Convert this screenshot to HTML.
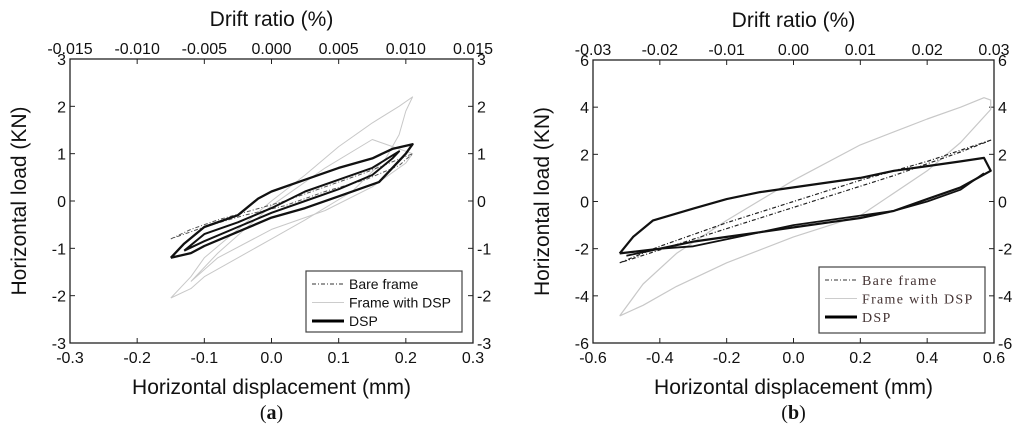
<!DOCTYPE html>
<html><head><meta charset="utf-8"><style>
body{margin:0;background:#fff;width:1024px;height:437px;overflow:hidden}
svg{font-family:"Liberation Sans",sans-serif}
</style></head><body>
<svg id="svg" width="1024" height="437" viewBox="0 0 1024 437"></svg>
<script>
// ---- Chart (a) data ----
const aFrameX=[-0.15,-0.12,-0.1,-0.05,0,0.05,0.1,0.15,0.19,0.21,0.2,0.19,0.17,0.12,0.05,0,-0.05,-0.1,-0.12,-0.15];
const aFrameY=[-2.05,-1.6,-1.2,-0.6,0,0.55,1.15,1.65,2.0,2.2,1.9,1.4,0.9,0.2,-0.4,-0.8,-1.2,-1.6,-1.85,-2.05];
const aFrame2X=[-0.12,-0.08,0,0.08,0.15,0.21,0.2,0.15,0.08,0,-0.08,-0.12];
const aFrame2Y=[-1.7,-1.1,-0.1,0.7,1.3,1.0,0.8,0.3,-0.2,-0.6,-1.2,-1.7];
const aBareX=[-0.15,-0.12,-0.08,-0.03,0.02,0.08,0.14,0.21,0.19,0.14,0.08,0.02,-0.04,-0.1,-0.15];
const aBareY=[-0.8,-0.6,-0.4,-0.2,0.0,0.3,0.6,1.0,0.75,0.45,0.2,-0.1,-0.3,-0.55,-0.8];
const aDspX=[-0.15,-0.13,-0.1,-0.05,-0.02,0,0.05,0.1,0.15,0.18,0.21,0.2,0.18,0.16,0.1,0.05,0,-0.05,-0.1,-0.12,-0.15];
const aDspY=[-1.2,-0.9,-0.55,-0.3,0.05,0.2,0.45,0.7,0.9,1.1,1.2,1.0,0.7,0.4,0.1,-0.15,-0.35,-0.65,-0.95,-1.1,-1.2];
const aDsp2X=[-0.13,-0.1,-0.05,0,0.05,0.1,0.15,0.19,0.18,0.15,0.1,0.05,0,-0.05,-0.1,-0.13];
const aDsp2Y=[-1.05,-0.7,-0.45,-0.15,0.2,0.45,0.7,1.05,0.9,0.55,0.25,0.0,-0.25,-0.55,-0.85,-1.05];
const aXTicks=[-0.3,-0.2,-0.1,0.0,0.1,0.2,0.3];
const aXLabels=["-0.3","-0.2","-0.1","0.0","0.1","0.2","0.3"];
const aTopLabels=["-0.015","-0.010","-0.005","0.000","0.005","0.010","0.015"];
const aYTicks=[-3,-2,-1,0,1,2,3];
// ---- Chart (b) data ----
const bFrameX=[-0.52,-0.45,-0.35,-0.2,0,0.2,0.4,0.5,0.57,0.59,0.59,0.5,0.4,0.2,0,-0.2,-0.35,-0.45,-0.52];
const bFrameY=[-4.85,-3.5,-2.2,-0.8,0.9,2.4,3.5,4.0,4.4,4.3,3.9,2.5,1.3,-0.6,-1.5,-2.6,-3.6,-4.4,-4.85];
const bBareX=[-0.52,-0.4,-0.2,0,0.2,0.4,0.59,0.5,0.3,0.1,-0.1,-0.3,-0.52];
const bBareY=[-2.6,-1.9,-0.9,0,0.9,1.7,2.6,2.1,1.1,0.2,-0.7,-1.6,-2.6];
const bDspX=[-0.52,-0.48,-0.42,-0.3,-0.2,-0.1,0,0.1,0.2,0.3,0.4,0.5,0.57,0.59,0.5,0.4,0.3,0.2,0.1,0,-0.1,-0.2,-0.3,-0.4,-0.52];
const bDspY=[-2.2,-1.5,-0.8,-0.3,0.1,0.4,0.6,0.8,1.0,1.3,1.5,1.7,1.85,1.3,0.6,0.1,-0.4,-0.7,-0.9,-1.1,-1.3,-1.5,-1.7,-2.0,-2.2];
const bDsp2X=[-0.5,-0.4,-0.3,-0.2,-0.1,0,0.1,0.2,0.3,0.4,0.5,0.57];
const bDsp2Y=[-2.3,-2.0,-1.9,-1.6,-1.3,-1.0,-0.8,-0.6,-0.4,0.0,0.5,1.2];
const bXTicks=[-0.6,-0.4,-0.2,0.0,0.2,0.4,0.6];
const bXLabels=["-0.6","-0.4","-0.2","0.0","0.2","0.4","0.6"];
const bTopLabels=["-0.03","-0.02","-0.01","0.00","0.01","0.02","0.03"];
const bYTicks=[-6,-4,-2,0,2,4,6];

const NS="http://www.w3.org/2000/svg";
const svg=document.getElementById('svg');
function mk(tag,attrs,parent){const e=document.createElementNS(NS,tag);for(const k in attrs)e.setAttribute(k,attrs[k]);(parent||svg).appendChild(e);return e;}
function txt(x,y,s,size,anchor,parent,extra){const t=mk('text',Object.assign({x:x,y:y,'font-size':size,'text-anchor':anchor||'middle',fill:'#111'},extra||{}),parent);t.textContent=s;return t;}

function chart(id,L,R,T,B,xmin,xmax,ymin,ymax,xt,xl,tl,yt,series,leg,serif,letter){
  const g=mk('g',{});
  
  
  const sx=v=>L+(v-xmin)/(xmax-xmin)*(R-L);
  const sy=v=>B-(v-ymin)/(ymax-ymin)*(B-T);
  const box=mk('rect',{x:L,y:T,width:R-L,height:B-T,fill:'none',stroke:'#222','stroke-width':1.3},g);
  
  
  xt.forEach((v,i)=>{
    const x=sx(v);
    mk('line',{x1:x,y1:B,x2:x,y2:B-5,stroke:'#222'},g);
    mk('line',{x1:x,y1:T,x2:x,y2:T+5,stroke:'#222'},g);
    const a=txt(x,B+20,xl[i],16,'middle',g);
    
    
    const b=txt(x,T-5,tl[i],16,'middle',g);
    
    
  });
  yt.forEach(v=>{
    const y=sy(v);
    mk('line',{x1:L,y1:y,x2:L+5,y2:y,stroke:'#222'},g);
    mk('line',{x1:R,y1:y,x2:R-5,y2:y,stroke:'#222'},g);
    const a=txt(L-4,y+6,String(v),16,'end',g);
    
    
    const b=txt(R+4,y+6,String(v),16,'start',g);
    
    
  });
  series.forEach(s=>{
    const d=s.x.map((v,i)=>(i?'L':'M')+sx(v).toFixed(1)+' '+sy(s.y[i]).toFixed(1)).join(' ');
    const p=mk('path',{d:d,fill:'none',stroke:s.c,'stroke-width':s.w,'stroke-dasharray':s.dash||'none','stroke-linejoin':'round'},g);
    
    
  });
  const lt=mk('text',{x:(L+R)/2,y:T-33,'font-size':21,'text-anchor':'middle',fill:'#111'},g);lt.textContent='Drift ratio (%)';
  
  
  const xb=mk('text',{x:(L+R)/2,y:B+51,'font-size':21,'text-anchor':'middle',fill:'#111'},g);xb.textContent='Horizontal displacement (mm)';
  
  
  const cy=(T+B)/2;
  const yl=mk('text',{x:L-44,y:cy,'font-size':21,'text-anchor':'middle',fill:'#111',transform:'rotate(-90 '+(L-44)+' '+cy+')'},g);yl.textContent='Horizontal load (KN)';
  
  
  const lb=mk('text',{x:(L+R)/2,y:B+76,'font-size':20,'text-anchor':'middle',fill:'#111','font-family':'Liberation Serif,serif'},g);
  lb.innerHTML='(<tspan font-weight="bold">'+letter+'</tspan>)';
  
  
  const lg=mk('g',{},g);
  
  
  mk('rect',{x:leg[0],y:leg[1],width:leg[2],height:leg[3],fill:'#fff',stroke:'#444','stroke-width':1.2},lg);
  const items=[['Bare frame','#333',1,'4 2 1 2'],['Frame with DSP','#ccc',1,null],['DSP','#000',3,null]];
  items.forEach((it,i)=>{
    const y=leg[1]+13+i*18.5;
    mk('line',{x1:leg[0]+6,y1:y,x2:leg[0]+38,y2:y,stroke:it[1],'stroke-width':it[2],'stroke-dasharray':it[3]||'none'},lg);
    const t=txt(leg[0]+43,y+5,it[0],serif?14:14,'start',lg,serif?{'font-family':'Liberation Serif,serif',fill:'#433','letter-spacing':'1.3'}:{});
    
    
  });
}
chart('a',70,473,59,343,-0.3,0.3,-3,3,aXTicks,aXLabels,aTopLabels,aYTicks,[
 {x:aFrameX,y:aFrameY,c:'#c8c8c8',w:1,name:'series-frame-with-dsp'},
 {x:aFrame2X,y:aFrame2Y,c:'#c8c8c8',w:1,name:'series-frame-with-dsp-cycle2'},
 {x:aBareX,y:aBareY,c:'#555',w:1,dash:'4 2 1 2',name:'series-bare-frame'},
 {x:aDspX,y:aDspY,c:'#111',w:2.3,name:'series-dsp'},
 {x:aDsp2X,y:aDsp2Y,c:'#111',w:2,name:'series-dsp-cycle2'}
],[306,271,156,61],false,'a');
chart('b',593,994,60,343,-0.6,0.6,-6,6,bXTicks,bXLabels,bTopLabels,bYTicks,[
 {x:bFrameX,y:bFrameY,c:'#c8c8c8',w:1.2,name:'series-frame-with-dsp'},
 {x:bBareX,y:bBareY,c:'#222',w:1.2,dash:'4 2 1 2',name:'series-bare-frame'},
 {x:bDspX,y:bDspY,c:'#111',w:2.2,name:'series-dsp'},
 {x:bDsp2X,y:bDsp2Y,c:'#111',w:1.8,name:'series-dsp-cycle2'}
],[819,267,166,66],true,'b');
</script>
</body></html>
